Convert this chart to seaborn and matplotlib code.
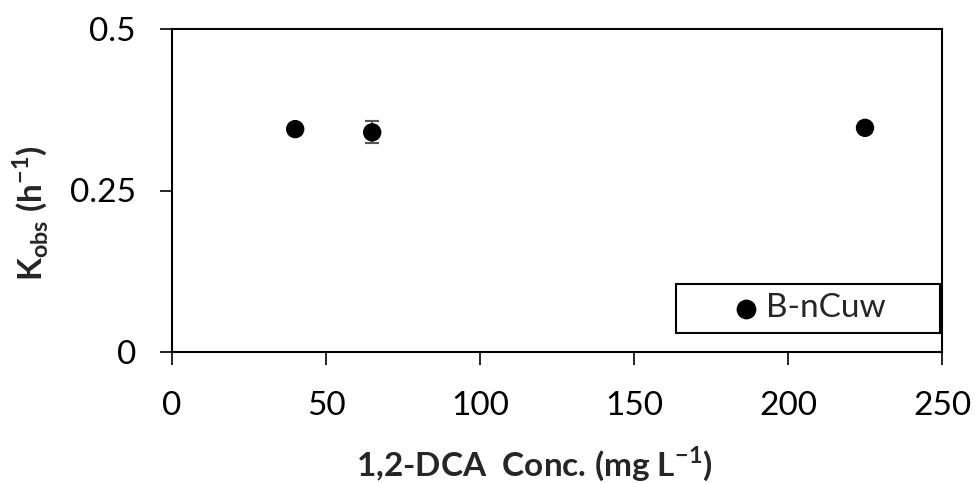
import matplotlib
matplotlib.use("Agg")
import matplotlib.pyplot as plt
from matplotlib.patches import Rectangle
import seaborn as sns
import pandas as pd

# 1,2-DCA concentration (mg/L) and observed rate constants (1/h)
conc = [40, 65, 225]
kobs = [0.345, 0.340, 0.347]
kerr = [0.0, 0.017, 0.0]
series = ["B-nCuw", "B-nCuw", "B-nCuw"]
xticks = [0, 50, 100, 150, 200, 250]
yticks = [0, 0.25, 0.5]
yticklabels = ["0", "0.25", "0.5"]

df = pd.DataFrame({"conc": conc, "kobs": kobs, "err": kerr, "series": series})

sns.set_theme(style="white")
plt.rcParams["font.family"] = ["Lato", "DejaVu Sans"]
plt.rcParams["mathtext.fontset"] = "custom"
plt.rcParams["mathtext.rm"] = "Lato"
plt.rcParams["mathtext.bf"] = "Lato:bold"

fig, ax = plt.subplots(figsize=(9.75, 4.83), dpi=100)
fig.subplots_adjust(left=172 / 975, right=942 / 975, top=1 - 29 / 483,
                    bottom=1 - 352 / 483)

ax.errorbar(df["conc"], df["kobs"], yerr=df["err"], fmt="none",
            ecolor="#555555", elinewidth=1.2, capsize=5, capthick=1.5, zorder=2)
sns.scatterplot(data=df, x="conc", y="kobs", hue="series", palette=["black"],
                s=175, edgecolor="black", linewidth=0, ax=ax, zorder=3,
                legend=False)

ax.set_xlim(0, 250)
ax.set_ylim(0, 0.5)
ax.set_xticks(xticks)
ax.set_yticks(yticks)
ax.set_yticklabels(yticklabels)
ax.tick_params(axis="both", labelsize=24, length=9, width=1.2, direction="out",
               color="black", labelcolor="black", left=True, bottom=True)
ax.tick_params(axis="x", pad=19)
ax.tick_params(axis="y", pad=17)
for sp in ax.spines.values():
    sp.set_color("black")
    sp.set_linewidth(1.5)

ax.set_xlabel("1,2-DCA  Conc. (mg L$^{\\mathbf{-1}}$)", fontsize=24, fontweight="bold")
ax.set_ylabel("K$_{\\mathbf{obs}}$ (h$^{\\mathbf{-1}}$)", fontsize=24, fontweight="bold")
ax.xaxis.set_label_coords(0.47, -0.285)
ax.yaxis.set_label_coords(-0.158, 0.43)

# legend entry inside a framed box at the lower right
ax.add_patch(Rectangle((0.655, 0.059), 0.342, 0.152, transform=ax.transAxes,
                       facecolor="white", edgecolor="black", linewidth=1.5,
                       zorder=4))
ax.scatter([], [], s=175, color="black", label=series[0])
leg = ax.legend(loc="center left", bbox_to_anchor=(0.72, 0.135), fontsize=24,
                frameon=False, handletextpad=0.0, borderpad=0.0,
                handlelength=1.2, borderaxespad=0)
leg.set_zorder(5)

fig.savefig("out.png", dpi=100, facecolor="white")
